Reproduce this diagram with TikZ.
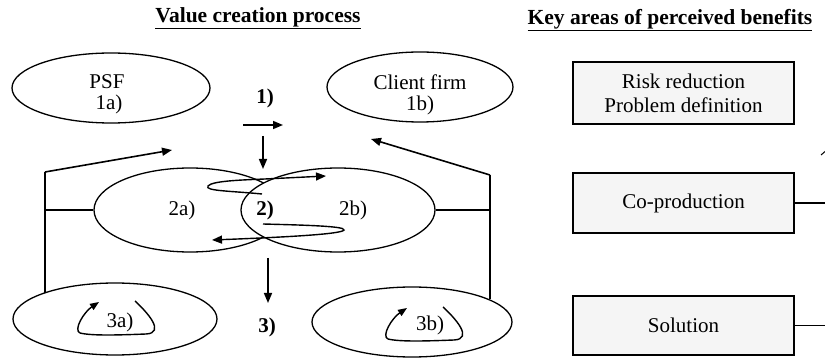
\documentclass[tikz,border=0pt]{standalone}
\usepackage{fontspec}
\setmainfont{Liberation Serif}
\usetikzlibrary{shapes.geometric,arrows.meta}

\begin{document}
\begin{tikzpicture}[x=1pt,y=-1pt,
  every node/.style={font=\fontsize{21}{21}\selectfont},
  bubble/.style={draw,ellipse,line width=1.3pt,inner sep=0pt},
  label/.style={inner sep=0pt,anchor=base},
  heading/.style={font=\fontsize{21.5}{22}\selectfont\bfseries},
  stage/.style={font=\fontsize{21}{21}\selectfont\bfseries},
  benefit/.style={draw,line width=1.3pt,fill=black!4,minimum width=221pt,align=center},
  link/.style={line width=1.8pt},
  flow/.style={line width=1.6pt,-{Triangle[length=10pt,width=8pt]}},
  loop/.style={line width=1.4pt,-{Triangle[length=9pt,width=7pt]}}
]
\clip (0,0) rectangle (825,358);

% headings
\node[heading] (h1) at (258,18) {\underline{Value creation process}};
\node[heading] (h2) at (670,20) {\underline{Key areas of perceived benefits}};

% stage 1: the two parties
\node[bubble,minimum width=198pt,minimum height=70pt] (psf) at (111,88) {};
\node[bubble,minimum width=186pt,minimum height=70pt] (client) at (420,87) {};
\node[label] (psft) at (107,89) {PSF};
\node[label] (psfn) at (109,110) {1a)};
\node[label] (clientt) at (420,90) {Client firm};
\node[label] (clientn) at (420,111) {1b)};
\node[stage] (s1) at (265,98) {1)};
\coordinate (a1) at (243,125); \coordinate (a1e) at (283,125);
\draw[flow] (a1) -- (a1e);
\coordinate (d1) at (263,136); \coordinate (d1e) at (263,169);
\draw[flow] (d1) -- (d1e);

% stage 2: overlapping co-production
\node[bubble,minimum width=192pt,minimum height=84pt] (co1) at (190,210) {};
\node[bubble,fill=white,minimum width=194pt,minimum height=84pt] (co2) at (338,210) {};
\node (t2a) at (182,210) {2a)};
\node (t2b) at (353,210) {2b)};
\node[stage] (s2) at (265,210) {2)};
\draw[flow,line width=1.4pt] (262,194) .. controls (232,191) and (204,191) .. (208,186)
   .. controls (212,181) and (240,180) .. (265,179) -- (326,176);
\draw[flow,line width=1.4pt] (263,224) .. controls (300,225) and (346,226) .. (344,230)
   .. controls (342,234) and (290,237) .. (212,240);

% side brackets feeding back to stage 1
\coordinate (lt) at (45,172);
\coordinate (lm) at (45,210);
\coordinate (ltip) at (172,150);
\coordinate (rt) at (490,175);
\coordinate (rm) at (490,210);
\coordinate (rtip) at (371,139);
\coordinate (rb) at (490,299);

% stage 3: outcomes
\node[bubble,minimum width=204pt,minimum height=72pt] (o1) at (115,319) {};
\node[bubble,minimum width=200pt,minimum height=70pt] (o2) at (412,322) {};
\node (t3a) at (120,322) {3a)};
\node (t3b) at (430,325) {3b)};
\node[stage] (s3) at (267,327) {3)};
\coordinate (d3) at (268,258); \coordinate (d3e) at (268,303);
\draw[flow] (d3) -- (d3e);

\draw[link] (lt) -- (lt |- o1.north west);
\draw[link] (lm) -- (co1.west);
\draw[flow] (lt) -- (ltip);
\draw[link] (rt) -- (rb);
\draw[link] (co2.east) -- (rm);
\draw[flow] (rt) -- (rtip);

% learning loops inside the outcome bubbles
\foreach \dx/\dy in {0/0, 308/6}{
  \draw[loop,shift={(\dx,\dy)}] (135,301) .. controls (147,312) and (166,333) .. (146,334)
     .. controls (120,335) and (92,336) .. (80,333)
     .. controls (73,330) and (84,312) .. (99,302);
}

% benefit boxes
\node[benefit,minimum height=62pt,font=\fontsize{21}{24}\selectfont] (b1) at (683.5,93)
   {Risk reduction\\Problem definition};
\node[benefit,minimum height=60pt] (b2) at (683.5,203) {Co-production};
\node[benefit,minimum height=59pt] (b3) at (683.5,325.5) {Solution};
\coordinate (e2) at (826,203);
\coordinate (e3) at (826,325.5);
\draw[line width=1.3pt] (b2.east) -- (e2);
\draw[line width=1.3pt] (b3.east) -- (e3);
\coordinate (f1) at (821,155); \coordinate (f2) at (836,142);
\draw[flow,line width=1pt] (f1) -- (f2);
\end{tikzpicture}
\end{document}
